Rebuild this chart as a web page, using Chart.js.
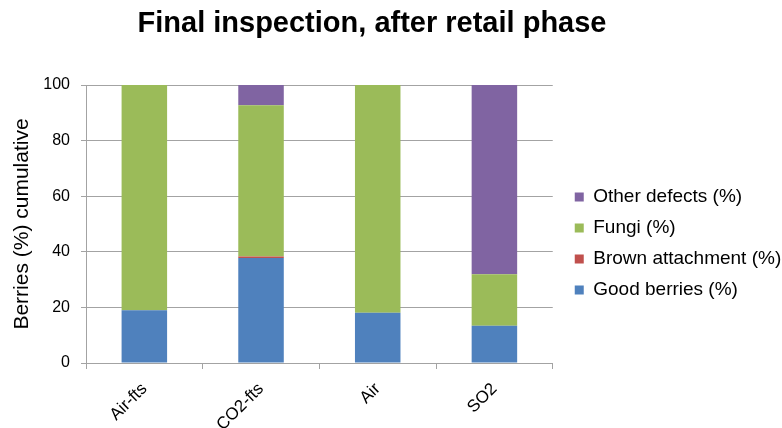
<!DOCTYPE html>
<html>
<head>
<meta charset="utf-8">
<script src="https://cdn.jsdelivr.net/npm/chart.js@4"></script>
<style>
  html, body { margin: 0; padding: 0; background: #fff; }
  #wrap { width: 782px; height: 428px; }
</style>
</head>
<body>
<div id="wrap"><canvas id="c" width="782" height="428"></canvas></div>
<script>
// Treatments on the category axis
const categories = ['Air-fts', 'CO2-fts', 'Air', 'SO2'];

// Share of berries per class (%), stacked to 100
const goodBerries = [19.0, 37.8, 18.1, 13.4];
const brownAttachment = [0.0, 0.5, 0.0, 0.0];
const fungi = [81.0, 54.4, 81.9, 18.5];
const otherDefects = [0.0, 7.3, 0.0, 68.1];

const chartTitle = 'Final inspection, after retail phase';
const yTitle = 'Berries (%) cumulative';

const FONT = "'Liberation Sans', Arial, sans-serif";

// Title drawn over the plot, slightly left of the page centre
const titlePlugin = {
  id: 'topTitle',
  afterDraw(chart) {
    const ctx = chart.ctx;
    ctx.save();
    ctx.font = "bold 29px " + FONT;
    ctx.fillStyle = '#000';
    ctx.textAlign = 'center';
    ctx.textBaseline = 'middle';
    ctx.fillText(chartTitle, 372, 24);
    ctx.restore();
  }
};

// Let the legend box run to the right edge of the canvas and sit a bit higher
const legendShift = {
  id: 'legendShift',
  afterLayout(chart) {
    const lg = chart.legend;
    if (lg) {
      lg.left += 10;
      lg.right = chart.width;
      lg.width = lg.right - lg.left;
      lg.top -= 13;
      lg.bottom -= 13;
    }
  }
};

const gridGray = '#a3a3a3';

new Chart(document.getElementById('c'), {
  type: 'bar',
  data: {
    labels: categories,
    datasets: [
      { label: 'Good berries (%)', data: goodBerries, backgroundColor: '#4f81bd' },
      { label: 'Brown attachment (%)', data: brownAttachment, backgroundColor: '#c0504d' },
      { label: 'Fungi (%)', data: fungi, backgroundColor: '#9bbb59' },
      { label: 'Other defects (%)', data: otherDefects, backgroundColor: '#8064a2' }
    ]
  },
  options: {
    responsive: false,
    animation: false,
    devicePixelRatio: 1,
    layout: { padding: { top: 85, bottom: 0, left: 0, right: 45 } },
    datasets: {
      bar: { categoryPercentage: 1.0, barPercentage: 0.39, borderWidth: 0 }
    },
    plugins: {
      title: { display: false },
      tooltip: { enabled: false },
      legend: {
        position: 'right',
        reverse: true,
        labels: {
          boxWidth: 9,
          boxHeight: 9,
          padding: 12,
          color: '#000',
          font: { family: FONT, size: 19 }
        }
      }
    },
    scales: {
      x: {
        stacked: true,
        offset: true,
        afterFit(scale) { scale.height = 65; },
        grid: {
          offset: true,
          drawOnChartArea: false,
          drawTicks: true,
          tickLength: 6,
          color: gridGray
        },
        border: { color: gridGray, width: 1 },
        ticks: {
          minRotation: 45,
          maxRotation: 45,
          autoSkip: false,
          padding: 10,
          color: '#000',
          font: { family: FONT, size: 17 }
        }
      },
      y: {
        stacked: true,
        min: 0,
        max: 100,
        afterFit(scale) { scale.width = 86; },
        grid: {
          color: gridGray,
          tickLength: 5
        },
        border: { color: gridGray, width: 1 },
        ticks: {
          stepSize: 20,
          padding: 11,
          color: '#000',
          font: { family: FONT, size: 16 }
        },
        title: {
          display: true,
          text: yTitle,
          color: '#000',
          padding: { top: 10, bottom: 0 },
          font: { family: FONT, size: 21 }
        }
      }
    }
  },
  plugins: [titlePlugin, legendShift]
});
</script>
</body>
</html>
